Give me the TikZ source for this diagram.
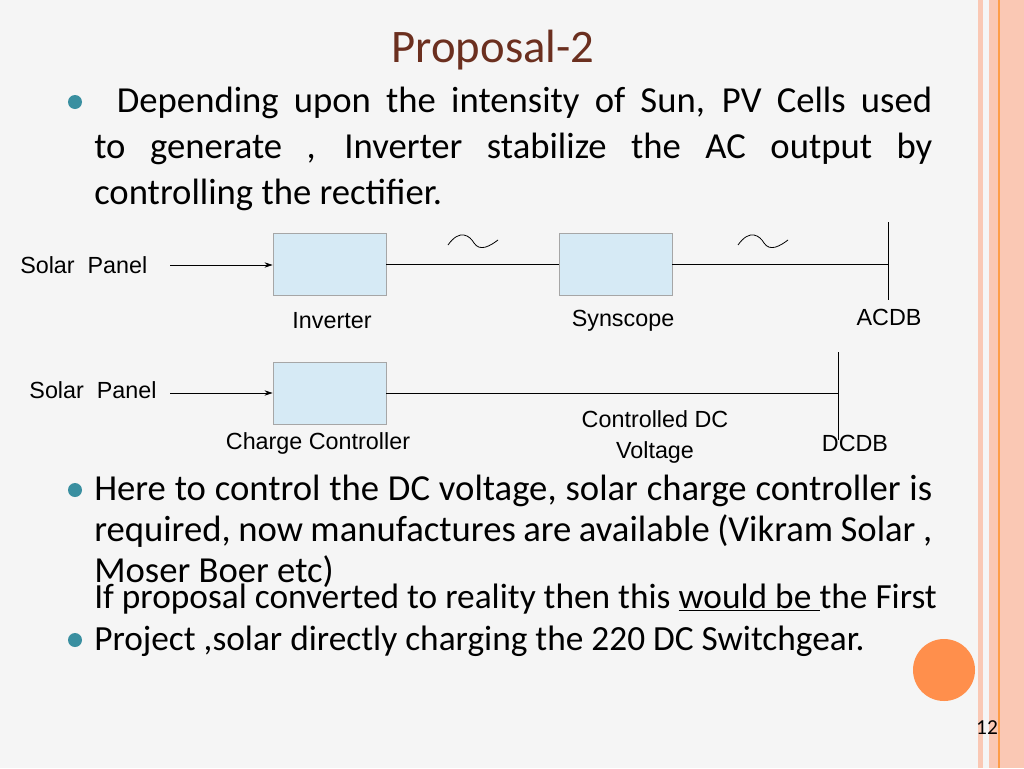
\documentclass[tikz,border=0pt]{standalone}
\usepackage{fontspec}
\setmainfont{Carlito}
\newfontfamily\arialf{Liberation Sans}
\usetikzlibrary{arrows.meta}
\definecolor{bul}{HTML}{3A8FA0}
\definecolor{ttl}{HTML}{6B2F1F}
\definecolor{boxf}{HTML}{D6EAF5}
\definecolor{brd}{HTML}{FAC8B4}
\begin{document}
\begin{tikzpicture}[x=0.75pt,y=-0.75pt,
  blk/.style={draw=gray!70,fill=boxf,minimum width=84.75pt,minimum height=46.5pt,inner sep=0,line width=0.6pt},
  lbl/.style={font=\arialf\fontsize{17.5}{20}\selectfont,inner sep=0},
  body/.style={text width=628.5pt,align=justify,anchor=base west,inner sep=0,
     execute at begin node={\hyphenpenalty=10000\exhyphenpenalty=10000}},
  dot/.style={circle,fill=bul,minimum size=10.5pt,inner sep=0},
  wire/.style={line width=0.6pt},
  arr/.style={wire,-{Stealth[length=6pt,width=4pt]}}]
\useasboundingbox (0,0) rectangle (1024,768);
\fill[gray!8] (0,0) rectangle (1024,768);
\fill[brd] (978,0) rectangle (983,768);
\fill[brd] (989,0) rectangle (1024,768);
\draw[orange!60!brd,line width=1pt] (999,0) -- (999,768);
\node[font=\fontsize{35}{38}\selectfont,text=ttl] (title) at (493,50) {Proposal-2};
% bullet 1
\node[dot] (b1) at (75,102) {};
\node[body,font=\fontsize{27.5}{34.5}\selectfont] (t1) at (94,112) {\hspace*{17pt}Depending upon the intensity of Sun, PV Cells used\linebreak to generate , Inverter stabilize the AC output by\linebreak controlling the rectifier.};
% diagram row 1
\node[lbl,anchor=west] (sp1) at (20,265) {Solar\ \ Panel};
\node[blk] (inv) at (329.5,264) {};
\node[blk] (syn) at (615.5,264) {};
\coordinate (a1) at (170,265);
\coordinate (ac) at (888,264);
\coordinate (act) at (888,222);
\coordinate (acb) at (888,300);
\draw[arr] (a1) -- (inv.west|-a1);
\draw[wire] (inv.east) -- (syn.west);
\draw[wire] (syn.east) -- (ac);
\draw[wire] (act) -- (acb);
\draw[wire] (448,245) .. controls (460,228) and (470,236) .. (474,243) .. controls (480,252) and (490,246) .. (498,240);
\draw[wire] (738,245) .. controls (750,228) and (760,236) .. (764,243) .. controls (770,252) and (780,246) .. (788,240);
\node[lbl] (linv) at (332,321) {Inverter};
\node[lbl] (lsyn) at (623,321) {Synscope};
\node[lbl] (lac) at (889,317) {ACDB};
% row 2
\node[lbl] (sp2) at (93,390) {Solar\ \ Panel};
\node[blk] (cc) at (329.5,393) {};
\coordinate (a2) at (170,393);
\coordinate (dc) at (838,393);
\coordinate (dct) at (838,352);
\coordinate (dcb) at (838,440);
\draw[arr] (a2) -- (cc.west|-a2);
\draw[wire] (cc.east) -- (dc);
\draw[wire] (dct) -- (dcb);
\node[lbl] (lcc) at (318,443) {Charge Controller};
\node[lbl,align=center,font=\arialf\fontsize{17.5}{23}\selectfont] (lcd) at (655,437) {Controlled DC\\Voltage};
\node[lbl] (ldc) at (855,443) {DCDB};
% bullet 2
\node[dot] (b2) at (75,490) {};
\node[body,font=\fontsize{27.5}{30.75}\selectfont] (t2) at (94,500) {Here to control the DC voltage, solar charge controller is\linebreak required, now manufactures are available (Vikram Solar ,\linebreak Moser Boer etc)};
\node[circle,fill=orange!75!red!70,minimum size=46.5pt,inner sep=0] (oc) at (944,670) {};
% bullet 3
\node[dot] (b3) at (75,640) {};
\node[anchor=base west,inner sep=0,align=left,font=\fontsize{26.5}{31.5}\selectfont] (t3) at (94,650) {If proposal converted to reality then this \underline{would be }the First\\Project ,solar directly charging the 220 DC Switchgear.};
\node[font=\fontsize{16}{18}\selectfont] (pg) at (987,728) {12};
\end{tikzpicture}
\end{document}
